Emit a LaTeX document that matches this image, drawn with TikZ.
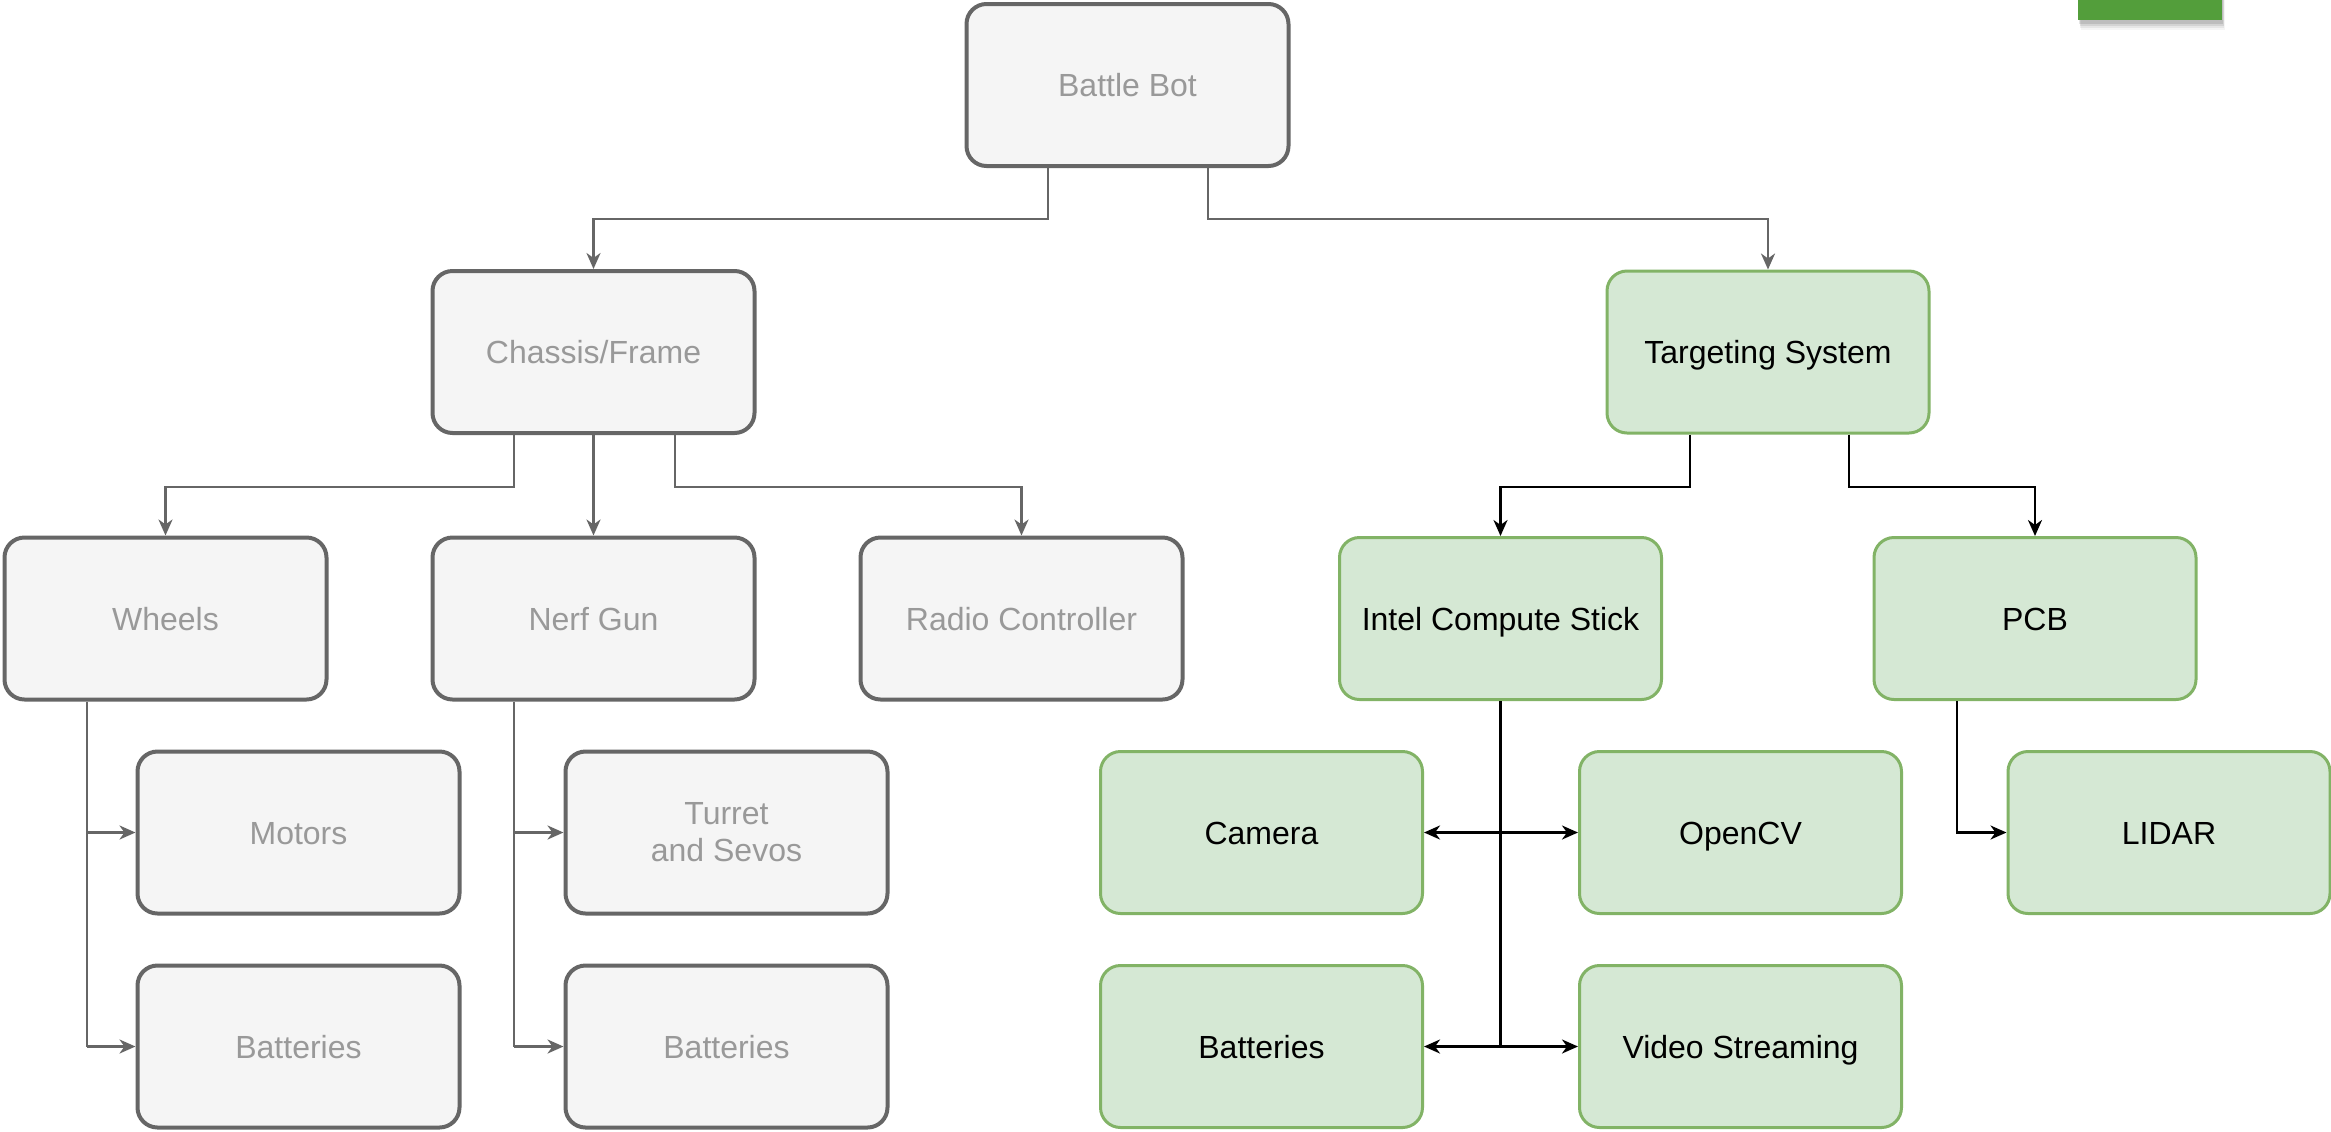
\documentclass[tikz,border=0pt]{standalone}
\usepackage{fontspec}
\setmainfont{Liberation Sans}
\usetikzlibrary{arrows.meta}
\definecolor{gfill}{HTML}{F5F5F5}
\definecolor{gdraw}{HTML}{666666}
\definecolor{gtext}{HTML}{999999}
\definecolor{vfill}{HTML}{D5E8D4}
\definecolor{vdraw}{HTML}{82B366}
\definecolor{tabgreen}{HTML}{539E3B}
\begin{document}
\begin{tikzpicture}[x=0.5pt,y=-0.5pt,
  boxbase/.style={rectangle, rounded corners=10pt, minimum width=161pt, minimum height=81pt,
    font=\fontsize{16}{18.5}\selectfont, align=center, inner sep=0pt},
  greybox/.style={boxbase, draw=gdraw, fill=gfill, line width=2pt, text=gtext},
  greenbox/.style={boxbase, draw=vdraw, fill=vfill, line width=1.5pt, text=black},
  oneline/.style={text height=11.5pt, text depth=0pt},
  garrow/.style={draw=gdraw, line width=1.3pt, -{Stealth[length=8pt,width=7pt,inset=2.5pt]}},
  barrow/.style={draw=black, line width=1.3pt, -{Stealth[length=8pt,width=7pt,inset=2.5pt]}},
  bline/.style={draw=black, line width=1.3pt},
  gline/.style={draw=gdraw, line width=1.3pt},
  bboth/.style={draw=black, line width=1.3pt, {Stealth[length=8pt,width=7pt,inset=2.5pt]}-{Stealth[length=8pt,width=7pt,inset=2.5pt]}}
]
\useasboundingbox (0,0) rectangle (2331,1131);
\fill[white] (0,0) rectangle (2331,1131);

% top-right tab with shadow
\foreach \o/\a in {10/0.04,8/0.06,6/0.08,4/0.1}{
  \fill[black, opacity=\a] (2078+\o*0.3,0) rectangle (2222+\o*0.3,20+\o);
}
\fill[tabgreen] (2078,0) rectangle (2222,20);

% nodes
\node[greybox, oneline] (bb) at (1127.5,85) {Battle Bot};
\node[greybox, oneline] (chassis) at (593.5,352) {Chassis/Frame};
\node[greenbox, oneline] (target) at (1768,352) {Targeting System};

\node[greybox, oneline] (wheels) at (165.5,618.5) {Wheels};
\node[greybox, oneline] (nerf) at (593.5,618.5) {Nerf Gun};
\node[greybox, oneline] (radio) at (1021.5,618.5) {Radio Controller};
\node[greenbox, oneline] (intel) at (1500.5,618.5) {Intel Compute Stick};
\node[greenbox, oneline] (pcb) at (2035,618.5) {PCB};

\node[greybox, oneline] (motors) at (298.5,832.5) {Motors};
\node[greybox] (turret) at (726.5,832.5) {Turret\\and Sevos};
\node[greenbox, oneline] (camera) at (1261.5,832.5) {Camera};
\node[greenbox, oneline] (opencv) at (1740.5,832.5) {OpenCV};
\node[greenbox, oneline] (lidar) at (2169,832.5) {LIDAR};

\node[greybox, oneline] (bat1) at (298.5,1046.5) {Batteries};
\node[greybox, oneline] (bat2) at (726.5,1046.5) {Batteries};
\node[greenbox, oneline] (bat3) at (1261.5,1046.5) {Batteries};
\node[greenbox, oneline] (video) at (1740.5,1046.5) {Video Streaming};

% level 1 connectors
\draw[garrow] (bb.south -| 1048,0) -- (1048,219) -| (chassis.north);
\draw[garrow] (bb.south -| 1208,0) -- (1208,219) -| (target.north);

% chassis connectors
\draw[garrow] (chassis.south -| 514,0) -- (514,487) -| (wheels.north);
\draw[garrow] (chassis.south) -- (nerf.north);
\draw[garrow] (chassis.south -| 675,0) -- (675,487) -| (radio.north);

% targeting connectors
\draw[barrow] (target.south -| 1690,0) -- (1690,487) -| (intel.north);
\draw[barrow] (target.south -| 1849,0) -- (1849,487) -| (pcb.north);

% wheels children
\draw[gline] (wheels.south -| 87,0) -- (87,1046.5);
\draw[garrow] (87,832.5) -- (motors.west);
\draw[garrow] (87,1046.5) -- (bat1.west);

% nerf children
\draw[gline] (nerf.south -| 514,0) -- (514,1046.5);
\draw[garrow] (514,832.5) -- (turret.west);
\draw[garrow] (514,1046.5) -- (bat2.west);

% intel children
\draw[bline] (intel.south) -- (intel.south |- bat3.east);
\draw[bboth] (camera.east) -- (opencv.west);
\draw[bboth] (bat3.east) -- (video.west);

% pcb child
\draw[barrow] (pcb.south -| 1957,0) -- (1957,832.5) -- (lidar.west);
\end{tikzpicture}
\end{document}
